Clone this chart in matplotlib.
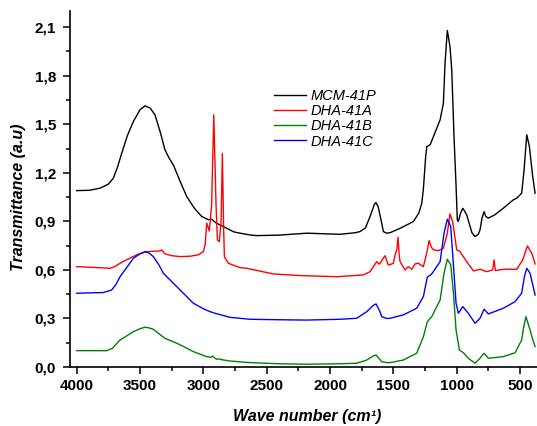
import matplotlib.pyplot as plt
from matplotlib.ticker import MultipleLocator

# wavenumber (cm-1) / transmittance pairs
mcm_w = [4000, 3900, 3816, 3750, 3711, 3680, 3645, 3600, 3553, 3500, 3461, 3420, 3382, 3340,
         3303, 3270, 3237, 3180, 3131, 3070, 3013, 2960, 2934, 2900, 2842, 2760, 2711, 2632,
         2579, 2400, 2184, 1921, 1800, 1763, 1720, 1684, 1650, 1637, 1620, 1592, 1579, 1553,
         1526, 1447, 1342, 1300, 1276, 1263, 1245, 1236, 1210, 1131, 1105, 1092, 1074, 1053,
         1039, 1021, 1005, 995, 987, 970, 952, 935, 921, 880, 855, 830, 816, 800, 784, 770,
         750, 700, 632, 553, 526, 487, 468, 447, 426, 400, 381]
mcm_t = [1.09, 1.092, 1.105, 1.13, 1.167, 1.23, 1.32, 1.43, 1.517, 1.59, 1.614, 1.60, 1.558, 1.45,
         1.342, 1.29, 1.249, 1.14, 1.053, 0.98, 0.93, 0.91, 0.913, 0.89, 0.868, 0.835, 0.827, 0.816,
         0.812, 0.815, 0.827, 0.82, 0.83, 0.837, 0.86, 0.93, 1.005, 1.016, 0.99, 0.889, 0.837, 0.827,
         0.83, 0.857, 0.899, 0.95, 1.01, 1.10, 1.30, 1.362, 1.373, 1.527, 1.63, 1.878, 2.08, 1.98,
         1.837, 1.42, 1.12, 0.909, 0.899, 0.95, 0.981, 0.96, 0.94, 0.83, 0.806, 0.82, 0.847, 0.92, 0.96, 0.93,
         0.92, 0.94, 0.981, 1.033, 1.043, 1.074, 1.218, 1.435, 1.362, 1.177, 1.074]

dha_a_w = [4000, 3850, 3737, 3700, 3658, 3600, 3526, 3447, 3342, 3329, 3303, 3250, 3184, 3100,
           3040, 3000, 2985, 2974, 2953, 2935, 2918, 2900, 2889, 2874, 2860, 2850, 2840, 2834,
           2803, 2711, 2658, 2447, 2237, 1947, 1737, 1684, 1645, 1631, 1611, 1566, 1540, 1500,
           1487, 1473, 1463, 1455, 1447, 1408, 1382, 1355, 1329, 1303, 1263, 1237, 1218, 1200,
           1184, 1145, 1105, 1074, 1053, 1032, 1000, 974, 921, 868, 816, 763, 716, 705, 695,
           632, 526, 479, 442, 407, 381]
dha_a_t = [0.62, 0.615, 0.61, 0.62, 0.641, 0.665, 0.693, 0.713, 0.717, 0.724, 0.699, 0.688, 0.682, 0.685,
           0.693, 0.713, 0.76, 0.89, 0.841, 1.0, 1.558, 1.0, 0.785, 0.775, 0.9, 1.32, 0.85, 0.682,
           0.641, 0.614, 0.61, 0.575, 0.565, 0.558, 0.569, 0.589, 0.635, 0.651, 0.635, 0.688, 0.63, 0.64,
           0.693, 0.724, 0.802, 0.70, 0.651, 0.6, 0.62, 0.604, 0.637, 0.641, 0.62, 0.703, 0.781, 0.74,
           0.724, 0.719, 0.734, 0.827, 0.946, 0.899, 0.724, 0.713, 0.651, 0.594, 0.604, 0.589, 0.6, 0.662, 0.596,
           0.604, 0.604, 0.662, 0.748, 0.703, 0.637]

dha_b_w = [4000, 3763, 3716, 3690, 3658, 3600, 3553, 3500, 3461, 3430, 3395, 3350, 3303, 3210,
           3140, 3079, 2974, 2940, 2926, 2910, 2895, 2870, 2855, 2790, 2632, 2400, 2184, 1921,
           1790, 1710, 1660, 1637, 1610, 1592, 1553, 1526, 1421, 1316, 1263, 1232, 1197, 1131,
           1100, 1074, 1047, 1025, 1005, 979, 947, 908, 855, 816, 784, 750, 632, 539, 487, 468,
           453, 421, 400, 381]
dha_b_t = [0.101, 0.101, 0.116, 0.14, 0.167, 0.195, 0.218, 0.237, 0.246, 0.242, 0.233, 0.205, 0.177, 0.147,
           0.12, 0.095, 0.064, 0.06, 0.068, 0.055, 0.048, 0.05, 0.045, 0.037, 0.027, 0.02, 0.017, 0.02,
           0.023, 0.043, 0.068, 0.074, 0.05, 0.033, 0.027, 0.027, 0.043, 0.085, 0.187, 0.28, 0.311, 0.414,
           0.579, 0.666, 0.631, 0.45, 0.229, 0.105, 0.088, 0.054, 0.023, 0.054, 0.085, 0.054, 0.064, 0.088, 0.167, 0.26,
           0.311, 0.229, 0.17, 0.126]

dha_c_w = [4000, 3790, 3724, 3690, 3658, 3600, 3553, 3500, 3461, 3430, 3395, 3350, 3316, 3263,
           3184, 3079, 3000, 2947, 2908, 2790, 2632, 2400, 2184, 1921, 1790, 1710, 1660, 1637,
           1610, 1592, 1553, 1526, 1421, 1316, 1263, 1232, 1197, 1131, 1100, 1074, 1047, 1025,
           1005, 987, 952, 908, 855, 816, 784, 750, 632, 539, 487, 465, 447, 421, 400, 381]
dha_c_t = [0.456, 0.46, 0.476, 0.51, 0.558, 0.62, 0.672, 0.70, 0.713, 0.705, 0.682, 0.63, 0.579, 0.538,
           0.476, 0.394, 0.36, 0.342, 0.332, 0.307, 0.295, 0.292, 0.29, 0.295, 0.301, 0.342, 0.38, 0.39,
           0.35, 0.311, 0.3, 0.301, 0.322, 0.363, 0.435, 0.555, 0.575, 0.651, 0.827, 0.913, 0.868, 0.62,
           0.394, 0.332, 0.373, 0.332, 0.27, 0.301, 0.357, 0.328, 0.363, 0.404, 0.456, 0.56, 0.61, 0.579, 0.51, 0.445]

labels = ["MCM-41P", "DHA-41A", "DHA-41B", "DHA-41C"]
colors = ["black", "red", "green", "blue"]

yticks = [0.0, 0.3, 0.6, 0.9, 1.2, 1.5, 1.8, 2.1]
ytick_labels = ["0,0", "0,3", "0,6", "0,9", "1,2", "1,5", "1,8", "2,1"]
xticks = [4000, 3500, 3000, 2500, 2000, 1500, 1000, 500]

plt.rcParams['font.family'] = ['Liberation Sans', 'DejaVu Sans']

fig = plt.figure(figsize=(5.37, 4.26), dpi=100)
ax = fig.add_axes([70/537, 59/426, 467/537, 356/426])

series = [(mcm_w, mcm_t), (dha_a_w, dha_a_t), (dha_b_w, dha_b_t), (dha_c_w, dha_c_t)]
for (w, t), lab, c in zip(series, labels, colors):
    ax.plot(w, t, color=c, lw=1.0, label=lab)

ax.set_xlim(4053, 366)
ax.set_ylim(0, 2.2)

for s in ["top", "right"]:
    ax.spines[s].set_visible(False)
for s in ["left", "bottom"]:
    ax.spines[s].set_linewidth(1.2)

ax.set_yticks(yticks)
ax.set_yticklabels(ytick_labels)
ax.set_xticks(xticks)
ax.set_xticklabels([str(x) for x in xticks])
ax.yaxis.set_minor_locator(MultipleLocator(0.15))
ax.xaxis.set_minor_locator(MultipleLocator(250))
ax.tick_params(which="major", direction="out", length=5, width=1.1, labelsize=11)
ax.tick_params(which="minor", direction="out", length=3, width=1.1)
ax.tick_params(axis="y", pad=5)
ax.tick_params(axis="x", pad=4)
for lbl in ax.get_xticklabels() + ax.get_yticklabels():
    lbl.set_fontweight("bold")

ax.set_xlabel("Wave number (cm¹)", fontsize=11.5, fontweight="bold", style="italic")
ax.set_ylabel("Transmittance (a.u)", fontsize=11.5, fontweight="bold", style="italic")
ax.xaxis.set_label_coords(0.507, -0.118)
ax.yaxis.set_label_coords(-0.095, 0.478)

ax.legend(loc="upper left", bbox_to_anchor=(274/537, 1 - 89/426), bbox_transform=fig.transFigure,
          frameon=False, borderpad=0, borderaxespad=0, handlelength=2.2, handletextpad=0.3,
          labelspacing=0.08, prop={"style": "italic", "size": 10.5})

fig.savefig("out.png", dpi=100)
